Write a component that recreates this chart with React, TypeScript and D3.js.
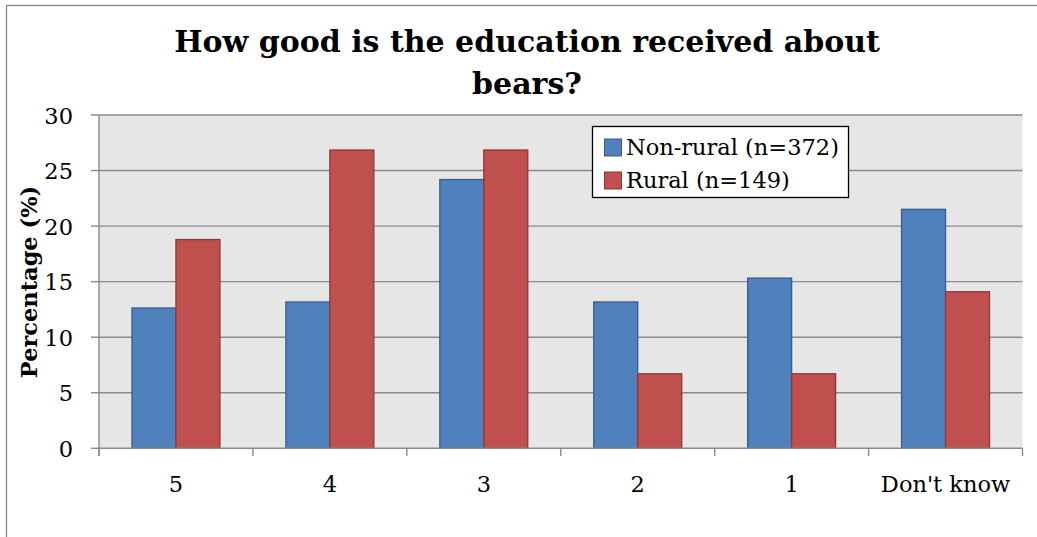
import React from "react";
import * as d3 from "d3";

const categories = ["5", "4", "3", "2", "1", "Don't know"];
const seriesNames = ["Non-rural (n=372)", "Rural (n=149)"];
const nonRural = [12.63, 13.17, 24.19, 13.17, 15.32, 21.51];
const rural = [18.79, 26.85, 26.85, 6.71, 6.71, 14.09];
const yTicks = [0, 5, 10, 15, 20, 25, 30];
const titleLines = ["How good is the education received about", "bears?"];
const yLabel = "Percentage (%)";

const W = 1037;
const H = 537;
const plot = { left: 99, right: 1022.5, top: 115, bottom: 448.3 };
const fills = ["#4f81bd", "#c0504d"];
const strokes = ["#385d8a", "#8c3836"];
const FONT = "'DejaVu Serif', 'Liberation Serif', serif";

export default function App() {
  const x0 = d3.scaleBand<string>().domain(categories).range([plot.left, plot.right]).paddingInner(0).paddingOuter(0);
  const x1 = d3
    .scaleBand<string>()
    .domain(seriesNames)
    .range([0, x0.bandwidth()])
    .paddingInner(0)
    .paddingOuter(0.75);
  const y = d3.scaleLinear().domain([0, 30]).range([plot.bottom, plot.top]);
  const values = [nonRural, rural];
  const boundaries = categories.map((c) => x0(c)!).concat([plot.right]);

  return (
    <svg
      width={W}
      height={H}
      style={{ position: "fixed", left: 0, top: 0, background: "#fff" }}
      fontFamily={FONT}
    >
      <rect x={6.5} y={5.5} width={1200} height={700} fill="#fff" stroke="#8a8a8a" strokeWidth={1.3} />
      {titleLines.map((t, i) => (
        <text
          key={i}
          x={527}
          y={52 + i * 42.3}
          textAnchor="middle"
          fontWeight="bold"
          fontSize={30}
          fill="#000"
        >
          {t}
        </text>
      ))}
      <rect x={plot.left} y={plot.top} width={plot.right - plot.left} height={plot.bottom - plot.top} fill="#e6e6e6" />
      {yTicks.map((t) => (
        <g key={t}>
          {t > 0 && (
            <line x1={plot.left} x2={plot.right} y1={y(t)} y2={y(t)} stroke="#8a8a8a" strokeWidth={1.4} />
          )}
          <line x1={91} x2={plot.left} y1={y(t)} y2={y(t)} stroke="#8a8a8a" strokeWidth={1.4} />
          <text x={73} y={y(t) + 8.5} textAnchor="end" fontSize={22.5} fill="#000">
            {t}
          </text>
        </g>
      ))}
      {categories.map((c, ci) =>
        values.map((vals, si) => (
          <rect
            key={c + si}
            x={x0(c)! + x1(seriesNames[si])!}
            y={y(vals[ci])}
            width={x1.bandwidth()}
            height={plot.bottom - y(vals[ci])}
            fill={fills[si]}
            stroke={strokes[si]}
            strokeWidth={1.3}
          />
        ))
      )}
      <line x1={plot.left} x2={plot.right} y1={plot.bottom} y2={plot.bottom} stroke="#8a8a8a" strokeWidth={1.4} />
      <line x1={plot.left} x2={plot.left} y1={plot.top} y2={456} stroke="#8a8a8a" strokeWidth={1.4} />
      {boundaries.map((b, i) => (
        <line key={i} x1={b} x2={b} y1={plot.bottom} y2={456} stroke="#8a8a8a" strokeWidth={1.4} />
      ))}
      {categories.map((c) => (
        <text key={c} x={x0(c)! + x0.bandwidth() / 2} y={491.5} textAnchor="middle" fontSize={22.5} fill="#000">
          {c}
        </text>
      ))}
      <text
        transform={`translate(37,282) rotate(-90)`}
        textAnchor="middle"
        fontWeight="bold"
        fontSize={22.5}
        fill="#000"
      >
        {yLabel}
      </text>
      <rect x={592.5} y={126.5} width={256} height={71} fill="#fff" stroke="#000" strokeWidth={1.3} />
      {seriesNames.map((s, i) => (
        <g key={s}>
          <rect
            x={604.5}
            y={139 + i * 33}
            width={17}
            height={17}
            fill={fills[i]}
            stroke={strokes[i]}
            strokeWidth={1}
          />
          <text x={626} y={155 + i * 32.5} fontSize={22.5} fill="#000">
            {s}
          </text>
        </g>
      ))}
    </svg>
  );
}
